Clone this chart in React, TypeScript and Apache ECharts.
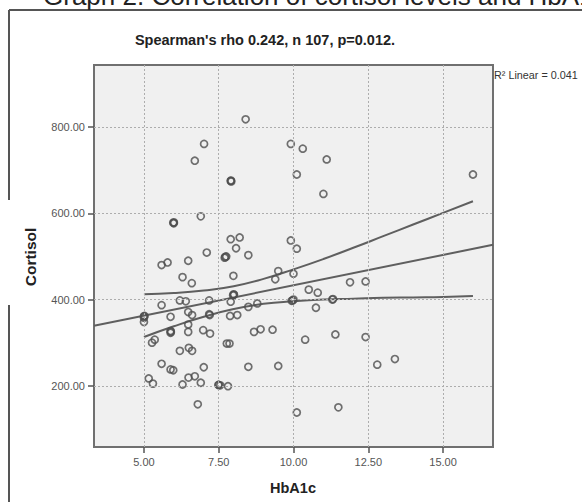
import React, { useEffect, useRef } from "react";
import * as echarts from "echarts";

// Scatter data: HbA1c (x) vs Cortisol (y)
const hba1c = [
  8.40, 7.01, 6.70, 7.90, 7.91, 9.91, 10.31, 11.11, 10.11, 11.00,
  16.00, 5.98, 6.00, 6.90, 7.90, 8.20, 8.08, 8.49, 7.10, 7.70,
  7.75, 6.48, 5.59, 5.79, 6.29, 6.60, 7.99, 9.91, 10.11, 9.49,
  9.39, 10.00, 11.89, 12.41, 10.51, 10.81, 9.94, 10.00, 11.30, 11.32,
  10.75, 10.39, 11.40, 12.41, 12.80, 13.39, 10.11, 11.50, 9.49, 8.00,
  7.98, 7.90, 7.18, 6.20, 6.40, 5.59, 5.00, 5.00, 5.00, 5.89,
  6.48, 6.61, 6.48, 7.18, 7.20, 7.88, 8.12, 8.49, 8.79, 5.89,
  5.89, 6.48, 6.98, 7.21, 5.36, 5.27, 6.20, 6.61, 6.50, 7.77,
  7.86, 8.68, 8.90, 9.30, 5.59, 5.89, 5.98, 7.00, 8.49, 5.16,
  5.30, 6.29, 6.49, 6.70, 6.90, 7.49, 7.55, 7.81, 6.80, 9.97,
  5.02, 7.50, 5.90, 7.72, 6.00, 7.92, 8.01,
];
const cortisol = [
  818, 761, 722, 675, 676, 761, 750, 725, 690, 645,
  690, 578, 579, 593, 540, 544, 519, 503, 509, 497,
  500, 490, 480, 486, 452, 438, 455, 537, 518, 466,
  447, 460, 440, 442, 423, 416, 397, 400, 400, 401,
  381, 307, 319, 313, 249, 262, 138, 150, 246, 412,
  410, 395, 398, 398, 396, 387, 361, 358, 348, 360,
  371, 364, 342, 366, 364, 362, 364, 383, 391, 327,
  323, 325, 329, 321, 307, 300, 281, 281, 288, 298,
  298, 325, 331, 330, 251, 238, 236, 243, 244, 217,
  205, 203, 219, 222, 207, 202, 201, 199, 157, 398,
  362, 202, 325, 499, 577, 674, 411,
];

// Linear fit line (read at the axis ends)
const fitX = [3.33, 16.67];
const fitY = [339, 527];

// 95% confidence band of the mean
const bandX = [5, 6, 7, 8, 9, 10, 11, 12, 13, 14, 15, 16];
const bandUpper = [412, 415, 421, 431, 448, 470, 494, 520, 547, 574, 601, 628];
const bandLower = [313, 338, 360, 378, 390, 396, 400, 402, 404, 405, 406, 408];

// Axes
const xTicks = [5, 7.5, 10, 12.5, 15];
const yTicks = [200, 400, 600, 800];
const xMin = 3.33;
const xMax = 16.67;
const yMin = 58;
const yMax = 944;

const topTitle = "Graph 2. Correlation of cortisol levels and HbA1c";
const chartTitle = "Spearman's rho 0.242, n 107, p=0.012.";
const fitLabel = "R\u00B2 Linear = 0.041";
const xName = "HbA1c";
const yName = "Cortisol";

const FONT = "'Liberation Sans', Arial, Helvetica, sans-serif";

export default function App() {
  const ref = useRef<HTMLDivElement>(null);

  useEffect(() => {
    if (!ref.current) return;
    const chart = echarts.init(ref.current, undefined, { renderer: "svg" });

    const points = hba1c.map((x, i) => [x, cortisol[i]]);
    const fit = fitX.map((x, i) => [x, fitY[i]]);
    const upper = bandX.map((x, i) => [x, bandUpper[i]]);
    const lower = bandX.map((x, i) => [x, bandLower[i]]);

    const lineColor = "#5f5f5f";

    chart.setOption({
      animation: false,
      backgroundColor: "#ffffff",
      grid: {
        left: 94,
        top: 65,
        right: 89,
        bottom: 55,
        show: true,
        backgroundColor: "#f0f0f0",
        borderColor: "#707070",
        borderWidth: 2,
      },
      xAxis: {
        type: "value",
        min: xMin,
        max: xMax,
        splitLine: { show: false },
        axisLine: { show: false },
        axisTick: {
          show: true,
          length: 6,
          customValues: xTicks,
          lineStyle: { color: "#555", width: 1.5 },
        },
        axisLabel: {
          customValues: xTicks,
          formatter: (v: number) => v.toFixed(2),
          color: "#555",
          fontSize: 11,
          fontFamily: FONT,
          margin: 9,
        },
      },
      yAxis: {
        type: "value",
        min: yMin,
        max: yMax,
        splitLine: { show: false },
        axisLine: { show: false },
        axisTick: {
          show: true,
          length: 6,
          customValues: yTicks,
          lineStyle: { color: "#555", width: 1.5 },
        },
        axisLabel: {
          customValues: yTicks,
          formatter: (v: number) => v.toFixed(2),
          color: "#555",
          fontSize: 11,
          fontFamily: FONT,
          margin: 9,
        },
      },
      series: [
        {
          type: "line",
          data: [],
          z: 1,
          silent: true,
          markLine: {
            silent: true,
            symbol: ["none", "none"],
            label: { show: false },
            lineStyle: { color: "#adadad", width: 1, type: [2, 2] },
            data: [
              ...xTicks.map((v) => ({ xAxis: v })),
              ...yTicks.map((v) => ({ yAxis: v })),
            ],
          },
        },
        {
          type: "line",
          data: fit,
          z: 2,
          showSymbol: false,
          silent: true,
          lineStyle: { color: lineColor, width: 2 },
        },
        {
          type: "line",
          data: upper,
          z: 2,
          smooth: true,
          showSymbol: false,
          silent: true,
          lineStyle: { color: lineColor, width: 2 },
        },
        {
          type: "line",
          data: lower,
          z: 2,
          smooth: true,
          showSymbol: false,
          silent: true,
          lineStyle: { color: lineColor, width: 2 },
        },
        {
          type: "scatter",
          data: points,
          z: 3,
          symbol: "circle",
          symbolSize: 7,
          itemStyle: {
            color: "rgba(0,0,0,0)",
            borderColor: "#4e4e4e",
            borderWidth: 1.7,
          },
        },
      ],
      graphic: [
        {
          type: "line",
          shape: { x1: 9, y1: 10, x2: 582, y2: 10 },
          style: { stroke: "#555", lineWidth: 2 },
        },
        {
          type: "line",
          shape: { x1: 9, y1: 10, x2: 9, y2: 200 },
          style: { stroke: "#555", lineWidth: 2 },
        },
        {
          type: "line",
          shape: { x1: 9, y1: 305, x2: 9, y2: 502 },
          style: { stroke: "#555", lineWidth: 2 },
        },
        {
          type: "text",
          x: 43,
          y: -4,
          style: {
            text: topTitle,
            fontSize: 26,
            fontFamily: FONT,
            fill: "#222",
            textAlign: "left",
            textVerticalAlign: "middle",
            align: "left",
            verticalAlign: "middle",
          },
        },
        {
          type: "text",
          x: 265,
          y: 40,
          style: {
            text: chartTitle,
            fontSize: 14.5,
            fontWeight: "bold",
            fontFamily: FONT,
            fill: "#222",
            textAlign: "center",
            textVerticalAlign: "middle",
            align: "center",
            verticalAlign: "middle",
          },
        },
        {
          type: "text",
          x: 494,
          y: 75,
          style: {
            text: fitLabel,
            fontSize: 10.8,
            fontFamily: FONT,
            fill: "#333",
            textAlign: "left",
            textVerticalAlign: "middle",
            align: "left",
            verticalAlign: "middle",
          },
        },
        {
          type: "text",
          x: 293,
          y: 488,
          style: {
            text: xName,
            fontSize: 14.5,
            fontWeight: "bold",
            fontFamily: FONT,
            fill: "#222",
            textAlign: "center",
            textVerticalAlign: "middle",
            align: "center",
            verticalAlign: "middle",
          },
        },
        {
          type: "text",
          x: 30,
          y: 257,
          rotation: Math.PI / 2,
          style: {
            text: yName,
            fontSize: 15.5,
            fontWeight: "bold",
            fontFamily: FONT,
            fill: "#222",
            textAlign: "center",
            textVerticalAlign: "middle",
            align: "center",
            verticalAlign: "middle",
          },
        },
      ],
    });

    return () => {
      chart.dispose();
    };
  }, []);

  return (
    <div
      ref={ref}
      style={{ position: "absolute", left: 0, top: 0, width: 582, height: 502 }}
    />
  );
}
